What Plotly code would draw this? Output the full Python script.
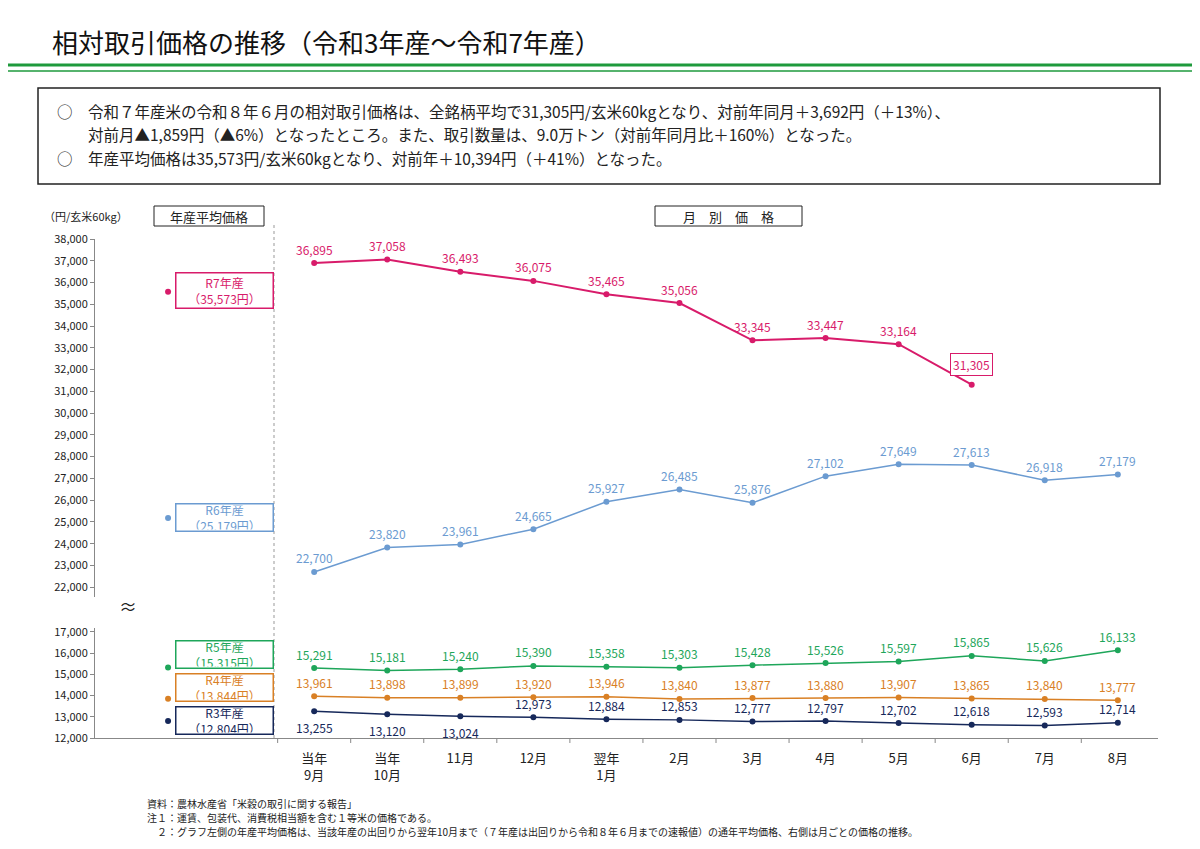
import plotly.graph_objects as go

months = ["当年<br>9月", "当年<br>10月", "11月", "12月", "翌年<br>1月", "2月", "3月", "4月", "5月", "6月", "7月", "8月"]
r7 = [36895, 37058, 36493, 36075, 35465, 35056, 33345, 33447, 33164, 31305]
r6 = [22700, 23820, 23961, 24665, 25927, 26485, 25876, 27102, 27649, 27613, 26918, 27179]
r5 = [15291, 15181, 15240, 15390, 15358, 15303, 15428, 15526, 15597, 15865, 15626, 16133]
r4 = [13961, 13898, 13899, 13920, 13946, 13840, 13877, 13880, 13907, 13865, 13840, 13777]
r3 = [13255, 13120, 13024, 12973, 12884, 12853, 12777, 12797, 12702, 12618, 12593, 12714]
avg = {"R7": 35573, "R6": 25179, "R5": 15315, "R4": 13844, "R3": 12804}

C7, C6, C5, C4, C3 = "#d81b6a", "#6b9bd1", "#1ea65a", "#d98025", "#16285a"

# page is drawn with an 8px offset, so work in reference pixels minus OFF
OFF = 8
L, R, T, B = 95 - OFF, 1158 - OFF, 239 - OFF, 738 - OFF
def px(x):
    return (x - OFF - L) / (R - L)
def py(y):
    return (B - (y - OFF)) / (B - T)

fig = go.Figure()
xs = list(range(12))

def series(vals, color, yaxis, below=()):
    x = xs[:len(vals)]
    fig.add_trace(go.Scatter(x=x, y=vals, mode="lines+markers", yaxis=yaxis,
                             line=dict(color=color, width=2 if color == C7 else 1.5),
                             marker=dict(size=6, color=color), showlegend=False))
    for i, v in enumerate(vals):
        if color == C7 and i == len(vals) - 1:
            continue
        fig.add_annotation(x=i, y=v, yref=yaxis, text=f"{v:,}", showarrow=False,
                           yshift=-16 if i in below else 14,
                           font=dict(color=color, size=12))

series(r7, C7, "y2")
series(r6, C6, "y2")
series(r5, C5, "y")
series(r4, C4, "y")
series(r3, C3, "y", below=(0, 1, 2))

fig.add_annotation(x=9, y=r7[-1], yref="y2", text=f"{r7[-1]:,}", showarrow=False, yshift=20,
                   font=dict(color=C7, size=12), bordercolor=C7, borderwidth=1, borderpad=2, bgcolor="white")

# 年産平均価格 points and labels
for key, col, ax, ypx in [("R7", C7, "y2", 290), ("R6", C6, "y2", 517),
                          ("R5", C5, "y", 654), ("R4", C4, "y", 687), ("R3", C3, "y", 720)]:
    fig.add_trace(go.Scatter(x=[-2], y=[avg[key]], yaxis=ax, mode="markers",
                             marker=dict(size=6, color=col), showlegend=False))
    fig.add_annotation(x=px(224), y=py(ypx), xref="paper", yref="paper", xanchor="center", yanchor="middle",
                       text=f"{key}年産<br>（{avg[key]:,}円）", showarrow=False,
                       font=dict(color=col, size=12), bordercolor=col, borderwidth=1.5,
                       bgcolor="white", width=94, height=24 if key != "R7" else 32, borderpad=1)

fig.update_layout(
    width=1200, height=849, plot_bgcolor="white", paper_bgcolor="white",
    margin=dict(l=L, r=1200 - R, t=T, b=849 - B),
    font=dict(family="Noto Sans CJK JP", color="#222"),
    xaxis=dict(range=[-3, 11.55], tickvals=xs, ticktext=months, showgrid=False,
               showline=True, linecolor="#888", ticks="", tickfont=dict(size=13), ticklabelstandoff=8),
    yaxis=dict(domain=[0, py(630) + 0.005], range=[12000, 17200], dtick=1000, tickformat=",",
               showgrid=False, showline=True, linecolor="#888", ticks="outside", ticklen=4,
               tickcolor="#888", tickfont=dict(size=11)),
    yaxis2=dict(domain=[py(597), 1], range=[21550, 38000], tickvals=list(range(22000, 38001, 1000)),
                tickformat=",", showgrid=False, showline=True, linecolor="#888", ticks="outside",
                ticklen=4, tickcolor="#888", tickfont=dict(size=11)),
)
for i in range(12):
    fig.add_shape(type="line", x0=i - 0.5, x1=i - 0.5, y0=0, y1=-0.01, yref="paper", line=dict(color="#888", width=1))

def rect(x0, y0, x1, y1, **kw):
    fig.add_shape(type="rect", xref="paper", yref="paper", x0=px(x0), x1=px(x1), y0=py(y0), y1=py(y1), **kw)
def text(x, y, s, size=12, color="#222", anchor="left", **kw):
    fig.add_annotation(xref="paper", yref="paper", x=px(x), y=py(y), text=s, showarrow=False,
                       xanchor=anchor, yanchor="middle", font=dict(size=size, color=color), **kw)

# separator
fig.add_shape(type="line", xref="paper", yref="paper", x0=px(274), x1=px(274), y0=0, y1=py(225),
              line=dict(color="#999", width=1, dash="dot"))
# title and header
text(50, 42, "相対取引価格の推移（令和3年産～令和7年産）", size=26, color="#111")
fig.add_shape(type="line", xref="paper", yref="paper", x0=px(0), x1=px(1208), y0=py(65), y1=py(65), line=dict(color="#1e9a3c", width=3))
fig.add_shape(type="line", xref="paper", yref="paper", x0=px(0), x1=px(1208), y0=py(71), y1=py(71), line=dict(color="#1e9a3c", width=1.5))
rect(38, 88, 1160, 184, line=dict(color="#222", width=1.5))
text(55, 111, "○　令和７年産米の令和８年６月の相対取引価格は、全銘柄平均で31,305円/玄米60kgとなり、対前年同月＋3,692円（＋13%）、", size=15.5)
text(55, 134, "　　対前月▲1,859円（▲6%）となったところ。また、取引数量は、9.0万トン（対前年同月比＋160%）となった。", size=15.5)
text(55, 158, "○　年産平均価格は35,573円/玄米60kgとなり、対前年＋10,394円（＋41%）となった。", size=15.5)
# chart headers
text(42, 216, "（円/玄米60kg）", size=11)
rect(154, 206, 264, 226, line=dict(color="#222", width=1))
text(209, 216, "年産平均価格", size=13, anchor="center")
rect(655, 206, 802, 226, line=dict(color="#222", width=1))
text(728, 216, "月　別　価　格", size=13, anchor="center")
text(128, 606, "≈", size=18, anchor="center")
# notes
text(145, 803, "資料：農林水産省「米穀の取引に関する報告」", size=10)
text(145, 817, "注１：運賃、包装代、消費税相当額を含む１等米の価格である。", size=10)
text(145, 831, "　２：グラフ左側の年産平均価格は、当該年産の出回りから翌年10月まで（７年産は出回りから令和８年６月までの速報値）の通年平均価格、右側は月ごとの価格の推移。", size=10)

fig.write_html("out.html")
